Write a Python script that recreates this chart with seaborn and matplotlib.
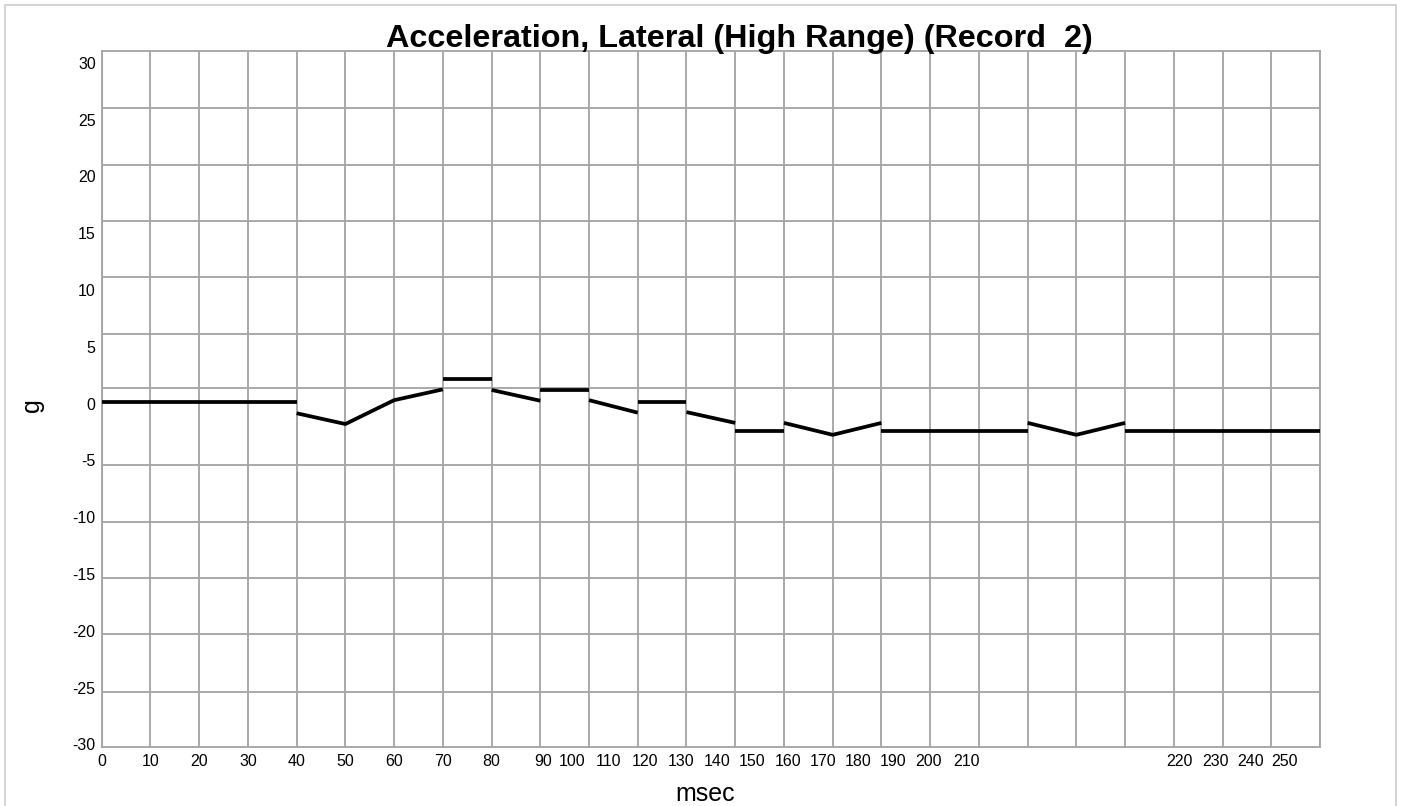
import numpy as np
import pandas as pd
import matplotlib
matplotlib.use("Agg")
import matplotlib.pyplot as plt
import seaborn as sns
from matplotlib.patches import Rectangle

# Lateral acceleration (g): each 10 ms interval is drawn as one straight piece
t_start = list(range(0, 250, 10))
g_from = [0.1, 0.1, 0.1, 0.1, -0.85, -1.8, 0.3, 2.15, 1.2, 1.2, 0.3, 0.1, -0.75,
          -2.4, -1.7, -2.75, -2.4, -2.4, -2.4, -1.7, -2.75, -2.4, -2.4, -2.4, -2.4]
g_to = [0.1, 0.1, 0.1, 0.1, -1.8, 0.3, 1.25, 2.15, 0.25, 1.2, -0.8, 0.1, -1.7,
        -2.4, -2.75, -1.7, -2.4, -2.4, -2.4, -2.75, -1.7, -2.4, -2.4, -2.4, -2.4]

y_ticks = list(range(-30, 35, 5))
x_grid = list(range(0, 260, 10))
x_labels = [str(v) for v in x_grid]

title = "Acceleration, Lateral (High Range) (Record  2)"

# join intervals that meet into continuous polylines
rows = []
piece = 0
for i, (t0, a, b) in enumerate(zip(t_start, g_from, g_to)):
    if i == 0 or a != g_to[i - 1]:
        if i > 0:
            piece += 1
        rows.append((piece, t0, a))
    rows.append((piece, t0 + 10, b))
df = pd.DataFrame(rows, columns=["piece", "msec", "g"])

sns.set_theme(style="white")
plt.rcParams["font.family"] = ["Liberation Sans", "DejaVu Sans"]

W, H = 1402, 806
fig = plt.figure(figsize=(W / 100, H / 100), dpi=100)
ax = fig.add_axes([101.7 / W, 1 - 747.3 / H, (1320 - 101.7) / W, (747.3 - 51) / H])

sns.lineplot(data=df, x="msec", y="g", units="piece", estimator=None, sort=False,
             color="black", linewidth=2.7, solid_capstyle="butt", ax=ax, zorder=3)

ax.set_xlim(0, 250)
ax.set_ylim(-30.25, 31.03)

grid_col = "#a3a3a3"
ax.xaxis.remove_overlapping_locs = False
ax.yaxis.remove_overlapping_locs = False

# labels packed along the bottom edge, vertical grid on every 10 ms
label_at = [0, 10, 20, 30, 40, 50, 60, 70, 80, 90.5, 96.6, 104.0, 111.5, 118.9,
            126.2, 133.5, 140.8, 148.0, 155.3, 162.4, 169.6, 177.4,
            221.1, 228.5, 235.7, 242.8]
ax.set_xticks(label_at)
ax.set_xticklabels(x_labels)
ax.set_xticks(x_grid, minor=True)
ax.grid(which="minor", axis="x", color=grid_col, linewidth=1.3)

# horizontal grid rows
hgrid_at = [26.02, 21.04, 16.08, 11.10, 6.09, 1.34,
            -5.41, -10.40, -15.38, -20.30, -25.35]
ax.set_yticks(y_ticks)
ax.set_yticklabels([str(v) for v in y_ticks])
ax.set_yticks(hgrid_at, minor=True)
ax.grid(which="minor", axis="y", color=grid_col, linewidth=1.3)
ax.grid(which="major", visible=False)

ax.tick_params(which="both", length=0)
ax.tick_params(axis="both", which="major", labelsize=11.5, colors="black")
ax.tick_params(axis="y", which="major", pad=4.3)
ax.tick_params(axis="x", which="major", pad=4.5)

for s in ax.spines.values():
    s.set_color(grid_col)
    s.set_linewidth(1.3)

ax.set_xlabel("")
ax.set_ylabel("")

fig.text(739 / W, 1 - 47 / H, title, ha="center", va="baseline",
         fontsize=23.3, fontweight="bold", color="black")
fig.text(705 / W, 1 - 801 / H, "msec", ha="center", va="baseline",
         fontsize=18, color="black")
fig.text(32 / W, 1 - 405 / H, "g", ha="center", va="center", rotation=90,
         fontsize=18, color="black")

fig.add_artist(Rectangle((4.5 / W, -0.02), (1395.5 - 4.5) / W, 0.02 + (H - 5) / H,
                         transform=fig.transFigure, fill=False,
                         edgecolor="#cccccc", linewidth=1.2))

fig.savefig("out.png", dpi=100)
